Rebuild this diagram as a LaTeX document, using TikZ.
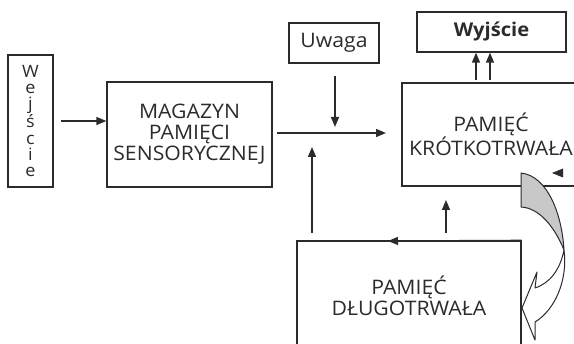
\documentclass[tikz,border=0pt]{standalone}
\usepackage{fontspec}
\setmainfont[FakeStretch=1.06]{Open Sans}
\usetikzlibrary{arrows.meta}
\definecolor{lc}{HTML}{2B2B2B}
\definecolor{band}{HTML}{C8C8C8}
\begin{document}
\begin{tikzpicture}[x=1pt,y=-1pt,
  box/.style={draw=lc,line width=1.3pt,inner sep=0pt,align=center,text=lc,font=\fontsize{20}{21}\selectfont},
  arr/.style={draw=lc,line width=1.3pt,-{Triangle[length=10pt,width=8pt]}},
  bandline/.style={draw=lc,line width=1pt,line join=round}
]
\useasboundingbox (0,0) rectangle (574,344);
\clip (0,0) rectangle (574,344);
% boxes
\node[box,minimum width=45,minimum height=132,font=\fontsize{17}{16.3}\selectfont] (wej) at (30.5,121) {W\\e\\j\\ś\\c\\i\\e};
\node[box,minimum width=165,minimum height=105] (mag) at (189.5,134.5) {MAGAZYN\\PAMIĘCI\\SENSORYCZNEJ};
\node[box,minimum width=90,minimum height=40] (uwa) at (334,43) {Uwaga};
\node[box,minimum width=178,minimum height=103] (stm) at (491,134.5) {PAMIĘĆ\\KRÓTKOTRWAŁA};
\node[box,minimum width=149,minimum height=40,font=\bfseries\fontsize{19}{20.5}\selectfont] (wyj) at (491.5,32) {Wyjście};
\node[box,minimum width=224,minimum height=110] (ltm) at (409,296) {PAMIĘĆ\\DŁUGOTRWAŁA};
% coordinates
\coordinate (u1) at (335,76);
\coordinate (u2) at (335,127);
\coordinate (hs) at (277,133);
\coordinate (he) at (386,133);
\coordinate (fb) at (312,233);
\coordinate (fe) at (312,147);
\coordinate (lm) at (388,241);
\coordinate (r1) at (446,233);
\coordinate (r2) at (446,200);
\coordinate (w1) at (476,80);
\coordinate (w2) at (490,80);
% connectors
\draw[arr] ([xshift=7pt]wej.east) -- (mag.west |- wej.east);
\draw[arr] (u1) -- (u2);
\draw[arr] (hs) -- (he);
\draw[arr] (fb) -- (fe);
\draw[arr] (ltm.north east) -- (lm);
\draw[arr] (r1) -- (r2);
\draw[arr] (w1) -- (w1 |- wyj.south);
\draw[arr] (w2) -- (w2 |- wyj.south);
% small triangle
\fill[lc] (552,173) -- (563,168.5) -- (563,177.5) -- cycle;
% twisted band arrow
\filldraw[bandline,fill=band] (521,173) .. controls (548,176) and (562,215) .. (564,250)
  .. controls (555,228) and (540,208) .. (521,207) -- cycle;
\filldraw[bandline,fill=white] (564,250) .. controls (560,270) and (550,283) .. (535,288)
  -- (537,272) -- (522,308) -- (535,340) -- (535,322)
  .. controls (555,310) and (568,280) .. (564,250) -- cycle;
\end{tikzpicture}
\end{document}
